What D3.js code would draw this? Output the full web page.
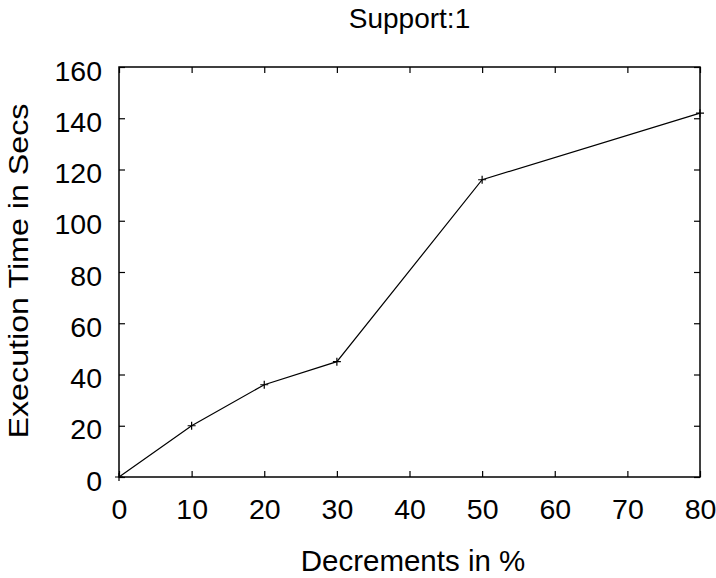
<!DOCTYPE html>
<html lang="en">
  <head>
    <meta charset="UTF-8" />
    <title>Support:1</title>
    <script src="https://d3js.org/d3.v7.min.js"></script>
    <style>
      body { margin: 0; background: #fff; }
      text { font-family: 'Liberation Sans', Arial, Helvetica, sans-serif; fill: #000; }
    </style>
  </head>
  <body>
    <svg width="716" height="578"></svg>

    <script>
      // Data
      const decrements = [0, 10, 20, 30, 50, 80];
      const execTime = [0, 20, 36, 45, 116, 142];
      const xTicks = [0, 10, 20, 30, 40, 50, 60, 70, 80];
      const yTicks = [0, 20, 40, 60, 80, 100, 120, 140, 160];

      const svg = d3.select('svg');
      const margin = { left: 119, right: 16, top: 67, bottom: 101 };
      const width = 716 - margin.left - margin.right,
        height = 578 - margin.top - margin.bottom;

      const x = d3.scaleLinear().domain([0, 80]).range([margin.left, margin.left + width]);
      const y = d3.scaleLinear().domain([0, 160]).range([margin.top + height, margin.top]);

      const g = svg.append('g');

      // Axes with inward ticks, mirrored on top and right
      const tick = 6;
      g.append('g')
        .attr('transform', `translate(0,${y(0)})`)
        .call(d3.axisBottom(x).tickValues(xTicks).tickSize(-tick).tickPadding(22))
        .call((a) => a.selectAll('text').attr('font-size', 28.5))
        .call((a) => a.select('.domain').remove());
      g.append('g')
        .attr('transform', `translate(0,${y(160)})`)
        .call(d3.axisTop(x).tickValues(xTicks).tickSize(-tick).tickFormat(''))
        .call((a) => a.select('.domain').remove());
      g.append('g')
        .attr('transform', `translate(${x(0)},0)`)
        .call(d3.axisLeft(y).tickValues(yTicks).tickSize(-tick).tickPadding(17))
        .call((a) => a.selectAll('text').attr('font-size', 28.5).attr('dy', '0.46em'))
        .call((a) => a.select('.domain').remove());
      g.append('g')
        .attr('transform', `translate(${x(80)},0)`)
        .call(d3.axisRight(y).tickValues(yTicks).tickSize(-tick).tickFormat(''))
        .call((a) => a.select('.domain').remove());

      g.selectAll('.tick line').attr('stroke', '#000').attr('stroke-width', 1.2);
      g.selectAll('.tick text').attr('fill', '#000');

      // Border
      svg.append('rect')
        .attr('x', x(0))
        .attr('y', y(160))
        .attr('width', x(80) - x(0))
        .attr('height', y(0) - y(160))
        .attr('fill', 'none')
        .attr('stroke', '#000')
        .attr('stroke-width', 1.5);

      // Line
      const pts = decrements.map((d, i) => [d, execTime[i]]);
      svg.append('path')
        .datum(pts)
        .attr('fill', 'none')
        .attr('stroke', '#000')
        .attr('stroke-width', 1.2)
        .attr('d', d3.line().x((d) => x(d[0])).y((d) => y(d[1])));

      // Plus markers
      svg.selectAll('.pt')
        .data(pts)
        .enter()
        .append('path')
        .attr('class', 'pt')
        .attr('stroke', '#000')
        .attr('stroke-width', 1.2)
        .attr('d', (d) => {
          const cx = x(d[0]), cy = y(d[1]), r = 4;
          return `M${cx - r},${cy}H${cx + r}M${cx},${cy - r}V${cy + r}`;
        });

      // Titles
      svg.append('text')
        .attr('x', (x(0) + x(80)) / 2)
        .attr('y', 28)
        .attr('text-anchor', 'middle')
        .attr('font-size', 28)
        .text('Support:1');

      svg.append('text')
        .attr('x', 413)
        .attr('y', 571)
        .attr('text-anchor', 'middle')
        .attr('font-size', 29.5)
        .text('Decrements in %');

      svg.append('text')
        .attr('transform', 'translate(28,271) rotate(-90)')
        .attr('text-anchor', 'middle')
        .attr('font-size', 28)
        .attr('textLength', 335)
        .attr('lengthAdjust', 'spacingAndGlyphs')
        .text('Execution Time in Secs');
    </script>
  </body>
</html>
